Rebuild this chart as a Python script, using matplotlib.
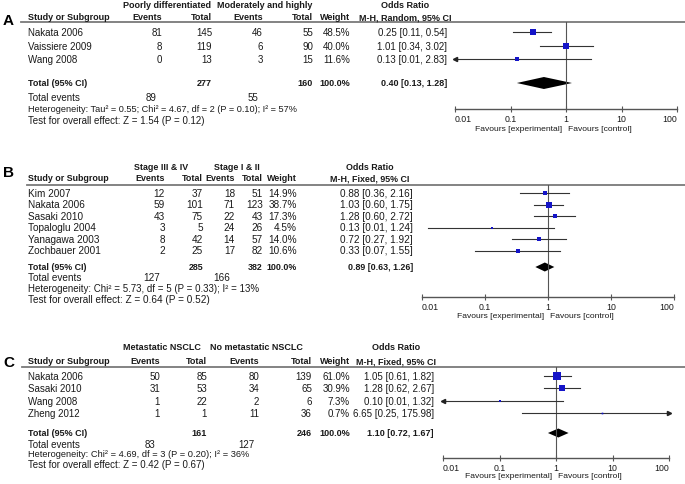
import numpy as np
from matplotlib import pyplot as plt
from matplotlib import font_manager

# fontes
nomes = {f.name for f in font_manager.fontManager.ttflist}
fonte = 'Liberation Sans' if 'Liberation Sans' in nomes else 'DejaVu Sans'
plt.rcParams['font.family'] = fonte

# ---------------- Painel A ----------------
a_estudos = ["Nakata 2006", "Vaissiere 2009", "Wang 2008"]
a_ev_exp = [81, 8, 0]
a_tot_exp = [145, 119, 13]
a_ev_ctl = [46, 6, 3]
a_tot_ctl = [55, 90, 15]
a_peso = [48.5, 40.0, 11.6]
a_or = [0.25, 1.01, 0.13]
a_inf = [0.11, 0.34, 0.006]
a_sup = [0.54, 3.02, 2.83]
a_total = [277, 160, 89, 55]          # total exp, total ctl, eventos exp, eventos ctl
a_total_or = [0.40, 0.13, 1.28]
a_grupos = ["Poorly differentiated", "Moderately and highly"]
a_metodo = "M-H, Random, 95% CI"
a_het = "Heterogeneity: Tau\u00b2 = 0.55; Chi\u00b2 = 4.67, df = 2 (P = 0.10); I\u00b2 = 57%"
a_teste = "Test for overall effect: Z = 1.54 (P = 0.12)"

# ---------------- Painel B ----------------
b_estudos = ["Kim 2007", "Nakata 2006", "Sasaki 2010", "Topaloglu 2004",
             "Yanagawa 2003", "Zochbauer 2001"]
b_ev_exp = [12, 59, 43, 3, 8, 2]
b_tot_exp = [37, 101, 75, 5, 42, 25]
b_ev_ctl = [18, 71, 22, 24, 14, 17]
b_tot_ctl = [51, 123, 43, 26, 57, 82]
b_peso = [14.9, 38.7, 17.3, 4.5, 14.0, 10.6]
b_or = [0.88, 1.03, 1.28, 0.13, 0.72, 0.33]
b_inf = [0.36, 0.60, 0.60, 0.0125, 0.27, 0.07]
b_sup = [2.16, 1.75, 2.72, 1.24, 1.92, 1.55]
b_total = [285, 382, 127, 166]
b_total_or = [0.89, 0.63, 1.26]
b_grupos = ["Stage III & IV", "Stage I & II"]
b_metodo = "M-H, Fixed, 95% CI"
b_het = "Heterogeneity: Chi\u00b2 = 5.73, df = 5 (P = 0.33); I\u00b2 = 13%"
b_teste = "Test for overall effect: Z = 0.64 (P = 0.52)"

# ---------------- Painel C ----------------
c_estudos = ["Nakata 2006", "Sasaki 2010", "Wang 2008", "Zheng 2012"]
c_ev_exp = [50, 31, 1, 1]
c_tot_exp = [85, 53, 22, 1]
c_ev_ctl = [80, 34, 2, 11]
c_tot_ctl = [139, 65, 6, 36]
c_peso = [61.0, 30.9, 7.3, 0.7]
c_or = [1.05, 1.28, 0.10, 6.65]
c_inf = [0.61, 0.62, 0.006, 0.25]
c_sup = [1.82, 2.67, 1.32, 175.98]
c_total = [161, 246, 83, 127]
c_total_or = [1.10, 0.72, 1.67]
c_grupos = ["Metastatic NSCLC", "No metastatic NSCLC"]
c_metodo = "M-H, Fixed, 95% CI"
c_het = "Heterogeneity: Chi\u00b2 = 4.69, df = 3 (P = 0.20); I\u00b2 = 36%"
c_teste = "Test for overall effect: Z = 0.42 (P = 0.67)"

# layout em pixels de cada painel (fs = texto normal, fb = negrito, fh = heterogeneidade)
lay_a = dict(letra=21, top=5, head=18, rule=23, rule_x0=21, row0=33, dy=13.5,
             total=84, eventos=98, het=110, teste=121, eixo=110, fav=129.5,
             cols=[162, 212, 263, 313, 350, 447], grp=[167, 265], or_head=405,
             x001=455, x100=677, dh=6, fs=7, fb=6.5, fh=6.6)
lay_b = dict(letra=173, top=168, head=179, rule=186, rule_x0=27, row0=194, dy=11.5,
             total=268, eventos=278, het=289, teste=300, eixo=298, fav=317,
             cols=[165, 203, 235, 263, 297, 413], grp=[161, 237], or_head=370,
             x001=422, x100=674, dh=4.5, fs=7.2, fb=6.4, fh=7.0)
lay_c = dict(letra=363, top=348, head=362, rule=368, rule_x0=22, row0=377, dy=12.3,
             total=434, eventos=445, het=455, teste=465, eixo=459, fav=477,
             cols=[160, 207, 259, 312, 350, 434], grp=[162, 256], or_head=396,
             x001=443, x100=669, dh=4.5, fs=7, fb=6.5, fh=6.7)

W, H = 685, 485
fig = plt.figure(figsize=(W / 100, H / 100), dpi=100)
fundo = fig.add_axes([0, 0, 1, 1])
fundo.set_xlim(0, W)
fundo.set_ylim(H, 0)
fundo.axis('off')

COR_TXT = '#1a1a1a'


def txt(x, y, s, fs, ha='left', negrito=False):
    fundo.text(x, y, s, ha=ha, va='center', fontsize=fs, color=COR_TXT,
               fontweight='bold' if negrito else 'normal')


def painel(letra, estudos, ev_e, tot_e, ev_c, tot_c, pesos, razao, inf, sup,
           total, total_or, grupos, metodo, het, teste, lay):
    fs, fb = lay['fs'], lay['fb']
    c = lay['cols']
    fundo.text(3, lay['letra'], letra, ha='left', va='center', fontsize=11,
               fontweight='bold', color='black')

    # cabeçalho
    txt(lay['grp'][0], lay['top'], grupos[0], fb, ha='center', negrito=True)
    txt(lay['grp'][1], lay['top'], grupos[1], fb, ha='center', negrito=True)
    txt(lay['or_head'], lay['top'], 'Odds Ratio', fb, ha='center', negrito=True)
    txt(28, lay['head'], 'Study or Subgroup', fb, negrito=True)
    for x, s in zip(c[:5], ['Events', 'Total', 'Events', 'Total', 'Weight']):
        txt(x, lay['head'], s, fb, ha='right', negrito=True)
    txt(lay['or_head'], lay['head'], metodo, fb, ha='center', negrito=True)
    fundo.plot([lay['rule_x0'], W], [lay['rule'], lay['rule']], color='#7a7a7a', lw=1.3)

    # linhas dos estudos
    ys = [lay['row0'] + i * lay['dy'] for i in range(len(estudos))]
    for i, y in enumerate(ys):
        txt(28, y, estudos[i], fs)
        txt(c[0], y, str(ev_e[i]), fs, ha='right')
        txt(c[1], y, str(tot_e[i]), fs, ha='right')
        txt(c[2], y, str(ev_c[i]), fs, ha='right')
        txt(c[3], y, str(tot_c[i]), fs, ha='right')
        txt(c[4], y, f'{pesos[i]:.1f}%', fs, ha='right')
        txt(c[5], y, f'{razao[i]:.2f} [{inf[i]:.2f}, {sup[i]:.2f}]', fs, ha='right')

    # total
    yt = lay['total']
    txt(28, yt, 'Total (95% CI)', fb, negrito=True)
    txt(c[1], yt, str(total[0]), fb, ha='right', negrito=True)
    txt(c[3], yt, str(total[1]), fb, ha='right', negrito=True)
    txt(c[4], yt, '100.0%', fb, ha='right', negrito=True)
    txt(c[5], yt, f'{total_or[0]:.2f} [{total_or[1]:.2f}, {total_or[2]:.2f}]', fb,
        ha='right', negrito=True)
    txt(28, lay['eventos'], 'Total events', fs)
    txt(c[0] - 5, lay['eventos'], str(total[2]), fs, ha='right')
    txt(c[2] - 5, lay['eventos'], str(total[3]), fs, ha='right')
    txt(28, lay['het'], het, lay['fh'])
    txt(28, lay['teste'], teste, fs)

    # forest plot
    x0, x1 = lay['x001'], lay['x100']
    ax = fig.add_axes([x0 / W, 1 - lay['eixo'] / H, (x1 - x0) / W,
                       (lay['eixo'] - lay['rule']) / H])
    ax.set_xscale('log')
    ax.set_xlim(0.01, 100)
    ax.set_ylim(lay['eixo'], lay['rule'])
    ax.patch.set_alpha(0)
    for s in ['top', 'left', 'right']:
        ax.spines[s].set_visible(False)
    ax.spines['bottom'].set_color('#555555')
    ax.spines['bottom'].set_linewidth(1.0)
    ax.set_yticks([])
    ax.set_xticks([0.01, 0.1, 1, 10, 100])
    ax.set_xticklabels(['0.01', '0.1', '1', '10', '100'], fontsize=6.3, color=COR_TXT)
    ax.minorticks_off()
    ax.tick_params(axis='x', direction='inout', length=5, width=0.8, pad=0.8,
                   color='#555555')
    rot = ax.get_xticklabels()
    rot[0].set_ha('left')
    rot[-1].set_ha('right')
    ax.axvline(1, color='#555555', lw=0.8)

    for i, y in enumerate(ys):
        a = max(inf[i], 0.01)
        b = min(sup[i], 100)
        ax.plot([a, b], [y, y], color='#333333', lw=0.8)
        if inf[i] < 0.01:
            ax.plot(0.01, y, marker='<', ms=3, color='#222222', clip_on=False)
        if sup[i] > 100:
            ax.plot(100, y, marker='>', ms=3, color='#222222', clip_on=False)
        ax.plot(razao[i], y, marker='s', ms=max(np.sqrt(pesos[i]) * 0.72, 1.2),
                color='#1414c8', mew=0, clip_on=False)

    o, lo, hi = total_or
    h = lay['dh']
    ax.fill([lo, o, hi, o], [yt, yt - h, yt, yt + h], color='black', lw=0, clip_on=False)

    xm = x0 + (x1 - x0) / 2
    txt(xm - 4, lay['fav'], 'Favours [experimental]', 6.1, ha='right')
    txt(xm + 2, lay['fav'], 'Favours [control]', 6.1, ha='left')


painel('A', a_estudos, a_ev_exp, a_tot_exp, a_ev_ctl, a_tot_ctl, a_peso, a_or,
       a_inf, a_sup, a_total, a_total_or, a_grupos, a_metodo, a_het, a_teste, lay_a)
painel('B', b_estudos, b_ev_exp, b_tot_exp, b_ev_ctl, b_tot_ctl, b_peso, b_or,
       b_inf, b_sup, b_total, b_total_or, b_grupos, b_metodo, b_het, b_teste, lay_b)
painel('C', c_estudos, c_ev_exp, c_tot_exp, c_ev_ctl, c_tot_ctl, c_peso, c_or,
       c_inf, c_sup, c_total, c_total_or, c_grupos, c_metodo, c_het, c_teste, lay_c)

fig.savefig('out.png', dpi=100)
